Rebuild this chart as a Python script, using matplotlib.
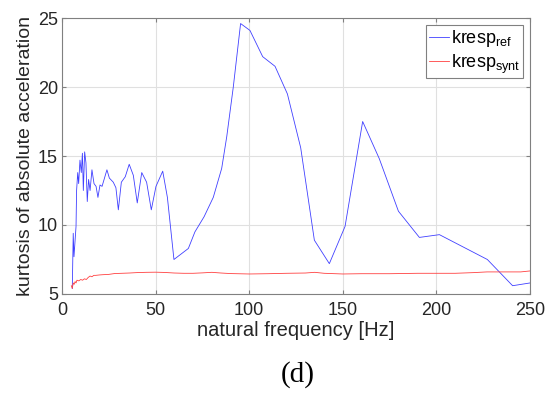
import numpy as np
import matplotlib.pyplot as plt
import matplotlib.ticker as ticker

# values
freq_ref = [5.5, 6.0, 6.4, 7.5, 7.8, 8.4, 8.9, 9.6, 10.3, 10.9, 11.4, 12.1, 12.8,
            13.5, 14.2, 15.0, 16.0, 17.1, 18.2, 19.2, 20.3, 21.4, 24.0, 25.3, 27.4,
            28.8, 30.1, 31.7, 33.8, 35.9, 38.1, 40.2, 42.6, 45.2, 47.7, 50.2, 53.8,
            56.3, 59.8, 67.5, 71.0, 75.9, 80.8, 85.3, 88.0, 91.5, 95.4, 100.4,
            107.2, 113.8, 120.4, 127.5, 134.8, 142.8, 151.2, 160.6, 169.5, 179.7,
            190.9, 201.6, 227.2, 240.7, 250.0]
kresp_ref = [5.4, 9.4, 7.7, 9.9, 12.5, 13.8, 13.0, 14.7, 13.8, 15.2, 12.5, 15.3, 14.5,
             11.7, 13.3, 12.5, 14.0, 13.0, 12.8, 12.0, 12.9, 12.8, 14.0, 13.4, 13.1,
             12.7, 11.1, 13.1, 13.5, 14.4, 13.6, 11.6, 13.8, 13.1, 11.1, 12.8, 13.9,
             12.0, 7.5, 8.3, 9.5, 10.6, 12.0, 14.1, 16.4, 20.0, 24.6, 24.1,
             22.2, 21.5, 19.5, 15.6, 8.9, 7.2, 9.9, 17.5, 14.8, 11.0,
             9.1, 9.3, 7.5, 5.6, 5.8]

freq_synt = [5, 5.5, 6, 6.5, 7, 7.5, 8, 9, 10, 11, 12, 13, 14, 15, 16, 17, 18, 20,
             22, 25, 28, 32, 36, 40, 45, 50, 55, 60, 65, 70, 75, 80, 85, 90, 100,
             110, 120, 130, 135, 140, 150, 160, 175, 190, 200, 210, 220, 227, 235,
             245, 250]
kresp_synt = [5.6, 5.4, 5.8, 5.7, 5.9, 5.8, 6.0, 5.95, 6.05, 6.0, 6.1, 6.05, 6.2,
              6.3, 6.25, 6.35, 6.35, 6.38, 6.4, 6.42, 6.48, 6.5, 6.52, 6.55, 6.57,
              6.58, 6.56, 6.52, 6.5, 6.5, 6.53, 6.57, 6.52, 6.48, 6.45, 6.47, 6.5,
              6.52, 6.57, 6.5, 6.45, 6.47, 6.47, 6.5, 6.5, 6.5, 6.55, 6.6, 6.6,
              6.6, 6.67]

plt.rcParams['font.family'] = ['Liberation Sans', 'DejaVu Sans']

fig = plt.figure(figsize=(5.55, 3.96), dpi=100)
ax = fig.add_axes([0.1117, 0.2576, 0.8433, 0.6969])

ax.plot(freq_ref, kresp_ref, color='#4040ff', lw=0.6, label=r'kresp$_{\mathregular{ref}}$')
ax.plot(freq_synt, kresp_synt, color='#ff4040', lw=0.6, label=r'kresp$_{\mathregular{synt}}$')

ax.set_xlim(0, 250)
ax.set_ylim(5, 25)
ax.xaxis.set_major_locator(ticker.MultipleLocator(50))
ax.yaxis.set_major_locator(ticker.MultipleLocator(5))
ax.grid(True, color='#e0e0e0', lw=0.8)
ax.set_axisbelow(True)
for s in ax.spines.values():
    s.set_color('#808080')
    s.set_linewidth(0.8)
ax.tick_params(direction='in', length=3, colors='#808080', labelcolor='#262626',
               labelsize=13, top=True, right=True)
ax.tick_params(axis='x', pad=6)
ax.tick_params(axis='y', pad=3)

ax.set_xlabel('natural frequency [Hz]', fontsize=14.5, color='#262626', labelpad=1)
ax.set_ylabel('kurtosis of absolute acceleration', fontsize=14, color='#262626', labelpad=3)

leg = ax.legend(loc='upper right', fontsize=13, fancybox=False, framealpha=1,
                edgecolor='#808080', handlelength=1.1, handletextpad=0.1,
                borderpad=0.15, labelspacing=0.2, borderaxespad=0.4)
leg.get_frame().set_linewidth(0.8)

fig.text(0.537, 0.053, '(d)', ha='center', va='center', fontsize=21,
         family='Liberation Serif')

fig.savefig('out.png', dpi=100)
